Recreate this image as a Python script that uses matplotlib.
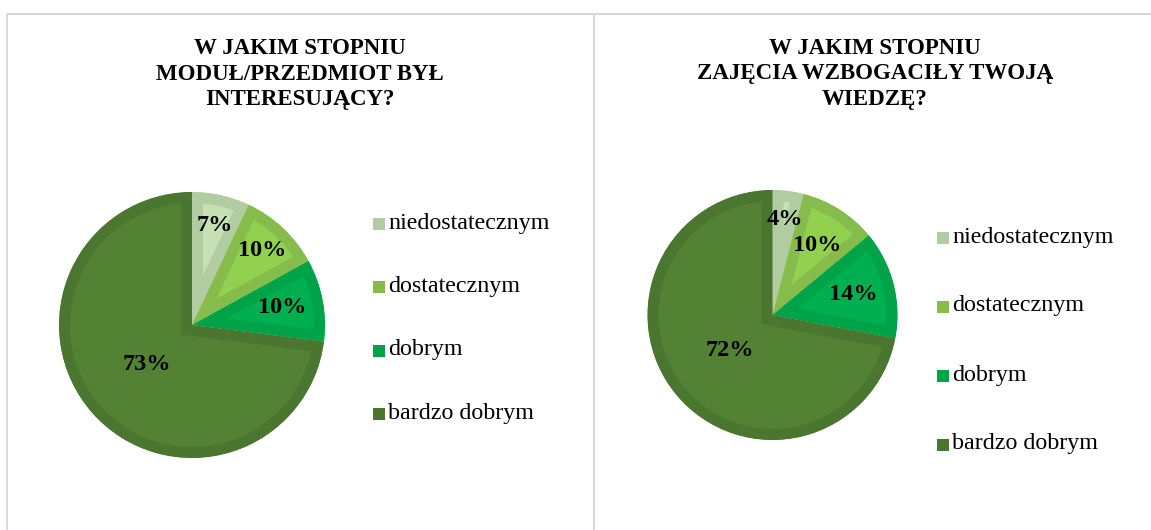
import matplotlib
matplotlib.use("Agg")
import matplotlib.pyplot as plt
import numpy as np

# ---------------- data ----------------
categories = ["niedostatecznym", "dostatecznym", "dobrym", "bardzo dobrym"]
title_1 = "W JAKIM STOPNIU\nMODUŁ/PRZEDMIOT BYŁ\nINTERESUJĄCY?"
values_1 = [7, 10, 10, 73]
title_2 = "W JAKIM STOPNIU\nZAJĘCIA WZBOGACIŁY TWOJĄ\nWIEDZĘ?"
values_2 = [4, 10, 14, 72]

# ---------------- style ----------------
inner_colors = ["#c5e0b4", "#92d050", "#00b050", "#548235"]
border_colors = ["#b0cca0", "#86bc4b", "#00a347", "#4b7630"]
label_dist_1 = [0.77, 0.77, 0.69, 0.45]
label_dist_2 = [0.77, 0.66, 0.67, 0.44]

W, H = 1151, 530
DPI = 100
SERIF = ["Liberation Serif", "DejaVu Serif"]

fig = plt.figure(figsize=(W / DPI, H / DPI), dpi=DPI)
fig.patch.set_facecolor("white")

# background axes in pixel coordinates (y down)
bg = fig.add_axes([0, 0, 1, 1])
bg.set_xlim(0, W)
bg.set_ylim(H, 0)
bg.axis("off")
grey = "#d9d9d9"
lw_px = 2 * 72 / DPI
bg.plot([6, W], [14, 14], color=grey, lw=lw_px, solid_capstyle="butt")
bg.plot([7, 7], [14, H], color=grey, lw=lw_px, solid_capstyle="butt")
bg.plot([594.5, 594.5], [14, H], color=grey, lw=lw_px, solid_capstyle="butt")

PAD = 1.1


def draw_panel(values, title, cx, cy, r, title_x, label_dist, leg_x, leg_y, leg_spacing):
    # title
    bg.text(title_x, 74, title, ha="center", va="center", family=SERIF,
            fontweight="bold", fontsize=16.5, linespacing=1.3, color="black")
    # pie axes (slightly larger than the pie to avoid edge clipping)
    R = r * PAD
    ax = fig.add_axes([(cx - R) / W, (H - cy - R) / H, 2 * R / W, 2 * R / H])
    wedges, _ = ax.pie(values, colors=inner_colors, startangle=90, counterclock=False,
                       radius=1.0, frame=False)
    ax.set_xlim(-PAD, PAD)
    ax.set_ylim(-PAD, PAD)
    border_px = 11
    for w, ec in zip(wedges, border_colors):
        w.set_edgecolor(ec)
        w.set_linewidth(2 * border_px * 72 / DPI)
        w.set_joinstyle("miter")
        w.set_clip_on(True)
        w.set_clip_path(w)
    for w, v, d in zip(wedges, values, label_dist):
        mid = np.deg2rad((w.theta1 + w.theta2) / 2)
        ax.text(d * np.cos(mid), d * np.sin(mid), f"{v}%", ha="center", va="center",
                family=SERIF, fontweight="bold", fontsize=17.5, color="black")
    # legend
    for i, (c, lab) in enumerate(zip(border_colors, categories)):
        y = leg_y + i * leg_spacing
        bg.add_patch(plt.Rectangle((leg_x, y - 5.5), 12, 12, facecolor=c, edgecolor="none"))
        bg.text(leg_x + 15, y, lab, ha="left", va="center", family=SERIF,
                fontsize=17.3, color="black")


draw_panel(values_1, title_1, 192, 325, 133, 300, label_dist_1, 373, 223, 63.5)
draw_panel(values_2, title_2, 772.5, 315, 125, 875, label_dist_2, 937, 237, 69)

fig.savefig("out.png", dpi=DPI, facecolor="white")
